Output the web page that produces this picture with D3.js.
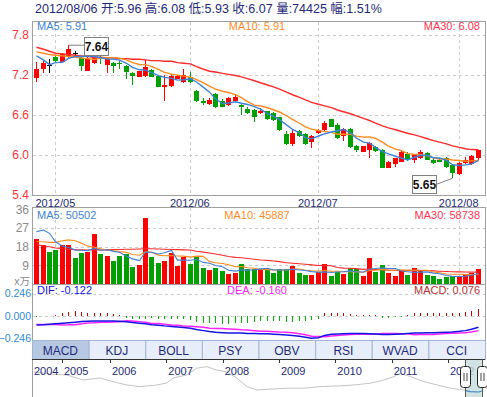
<!DOCTYPE html>
<html>
<head>
<meta charset="utf-8">
<script src="https://cdnjs.cloudflare.com/ajax/libs/d3/7.8.5/d3.min.js"></script>
<style>
  body { margin: 0; background: #fff; }
  svg { display: block; }
</style>
</head>
<body>
<svg id="chart" width="487" height="397"></svg>
<script>
// Quote of the last day
var quoteDay = '2012/08/06';
var quoteNames = ['开', '高', '低', '收', '量', '幅'];
var quoteValues = ['5.96', '6.08', '5.93', '6.07', '74425', '1.51%'];

// Month ticks (candle index of the first day in the month)
var monthIndex = [3, 24, 44, 66];
var monthLabels = ['2012/05', '2012/06', '2012/07', '2012/08'];

// Daily candles, 2012/04/25 .. 2012/08/06
var opens = [7.15, 7.28, 7.34, 7.47, 7.39, 7.46, 7.53, 7.45, 7.26, 7.37,
  7.58, 7.35, 7.37, 7.38, 7.33, 7.22, 7.17, 7.18, 7.27, 7.18,
  7.02, 7.03, 7.14, 7.09, 7.17, 6.96, 6.81, 6.76, 6.91, 6.81,
  6.74, 6.80, 6.75, 6.68, 6.67, 6.62, 6.65, 6.63, 6.56, 6.31,
  6.16, 6.36, 6.31, 6.20, 6.32, 6.37, 6.53, 6.45, 6.28, 6.38,
  6.13, 6.05, 6.07, 6.12, 6.08, 5.81, 5.86, 5.90, 6.02, 5.92,
  5.95, 6.03, 5.93, 5.93, 5.95, 5.85, 5.72, 5.88, 5.87, 5.96];
var highs = [7.39, 7.41, 7.43, 7.50, 7.53, 7.64, 7.56, 7.46, 7.46, 7.52,
  7.62, 7.45, 7.39, 7.40, 7.35, 7.24, 7.26, 7.42, 7.28, 7.19,
  7.19, 7.21, 7.20, 7.28, 7.24, 6.97, 6.85, 6.85, 6.93, 6.84,
  6.86, 6.89, 6.76, 6.71, 6.68, 6.70, 6.66, 6.64, 6.57, 6.36,
  6.37, 6.37, 6.33, 6.29, 6.39, 6.50, 6.54, 6.48, 6.40, 6.40,
  6.15, 6.14, 6.19, 6.14, 6.09, 5.91, 5.96, 6.08, 6.04, 6.02,
  6.07, 6.05, 5.95, 5.96, 5.97, 5.86, 5.90, 5.97, 6.00, 6.08];
var lows = [7.09, 7.23, 7.22, 7.39, 7.38, 7.45, 7.46, 7.26, 7.25, 7.36,
  7.36, 7.22, 7.23, 7.29, 7.14, 7.05, 7.16, 7.17, 7.16, 7.01,
  6.80, 7.02, 7.13, 7.08, 7.08, 6.79, 6.75, 6.75, 6.70, 6.71,
  6.73, 6.79, 6.60, 6.61, 6.49, 6.61, 6.52, 6.51, 6.36, 6.15,
  6.14, 6.26, 6.15, 6.11, 6.31, 6.36, 6.41, 6.24, 6.21, 6.11,
  6.05, 6.04, 5.96, 6.05, 5.80, 5.80, 5.82, 5.89, 5.91, 5.88,
  5.94, 5.92, 5.87, 5.89, 5.80, 5.65, 5.70, 5.86, 5.85, 5.93];
var closes = [7.29, 7.38, 7.34, 7.40, 7.51, 7.58, 7.53, 7.33, 7.44, 7.47,
  7.49, 7.43, 7.33, 7.36, 7.24, 7.18, 7.25, 7.31, 7.17, 7.02,
  7.04, 7.18, 7.18, 7.20, 7.09, 6.80, 6.78, 6.82, 6.71, 6.72,
  6.85, 6.87, 6.71, 6.62, 6.56, 6.66, 6.53, 6.52, 6.37, 6.16,
  6.32, 6.28, 6.16, 6.28, 6.37, 6.48, 6.42, 6.25, 6.38, 6.12,
  6.07, 6.13, 6.18, 6.06, 5.81, 5.90, 5.95, 6.04, 5.92, 6.01,
  6.05, 5.93, 5.88, 5.90, 5.82, 5.73, 5.88, 5.92, 5.98, 6.07];

// Volume, in 万
var volumes = [21.7, 18.9, 15.3, 16.4, 18.9, 18.9, 12.4, 14.8, 15.6, 24.2,
  14.5, 13.5, 11.1, 13.5, 14.5, 8.1, 9.2, 32.1, 12.9, 10.3,
  11.1, 14.8, 8.7, 13.2, 9.7, 12.9, 7.7, 6.8, 7.7, 6.4,
  4.8, 5.5, 9.7, 7.1, 7.2, 7.1, 7.1, 5.5, 7.2, 7.1,
  8.7, 5.5, 4.3, 4.3, 5.6, 9.7, 3.9, 5.6, 4.8, 7.6,
  7.1, 3.9, 12.7, 6.0, 9.2, 5.5, 3.9, 6.8, 4.3, 7.6,
  6.2, 4.3, 3.9, 2.6, 3.5, 4.1, 4.1, 4.5, 5.1, 7.44];

var ma5Lead = [7.48, 7.42, 7.35, 7.38];
var ma10Lead = [7.54, 7.52, 7.50, 7.49, 7.48, 7.47, 7.46, 7.45, 7.44];
var ma30Lead = [7.61, 7.58, 7.55, 7.52, 7.51, 7.50, 7.49, 7.48, 7.47, 7.46,
  7.46, 7.45, 7.45, 7.44, 7.44, 7.43, 7.43, 7.42, 7.41, 7.41,
  7.40, 7.40, 7.38, 7.37, 7.36, 7.32, 7.28, 7.25, 7.24];
var volMa5Lead = [25.3, 26.1, 24.5, 20.4];
var volMa10Lead = [20.4, 20.4, 20.1, 20.1, 20.9, 21.3, 20.9, 19.7, 18.4];
var volMa30Lead = [18.9, 18.5, 18.0, 17.4, 17.0, 16.8, 16.6, 16.5, 16.4, 16.4,
  16.4, 16.5, 16.6, 16.7, 16.8, 16.8, 16.9, 17.0, 17.0, 16.9,
  16.8, 16.7, 16.6, 16.5, 16.4, 15.8, 15.4, 15.0, 14.5];

// MACD: DIF line and histogram
var difs = [-0.099, -0.095, -0.090, -0.085, -0.079, -0.073, -0.067, -0.061, -0.057, -0.055,
  -0.054, -0.055, -0.056, -0.058, -0.064, -0.070, -0.078, -0.086, -0.095, -0.101,
  -0.108, -0.114, -0.120, -0.127, -0.135, -0.148, -0.160, -0.170, -0.178, -0.182,
  -0.185, -0.186, -0.187, -0.190, -0.192, -0.194, -0.195, -0.199, -0.203, -0.208,
  -0.214, -0.222, -0.232, -0.244, -0.238, -0.212, -0.200, -0.196, -0.193, -0.192,
  -0.191, -0.192, -0.194, -0.196, -0.201, -0.203, -0.200, -0.196, -0.191, -0.187,
  -0.185, -0.184, -0.183, -0.181, -0.178, -0.175, -0.168, -0.160, -0.145, -0.122];
var macds = [-0.010, -0.005, 0.005, 0.015, 0.037, 0.048, 0.055, 0.048, 0.037, 0.037,
  0.029, 0.029, 0.018, 0.011, -0.026, -0.033, -0.033, -0.033, -0.026, -0.037,
  -0.037, -0.033, -0.037, -0.033, -0.044, -0.062, -0.073, -0.073, -0.081, -0.092,
  -0.088, -0.081, -0.073, -0.073, -0.062, -0.055, -0.055, -0.055, -0.055, -0.062,
  -0.062, -0.055, -0.055, -0.044, -0.029, 0.029, 0.037, 0.037, 0.029, 0.022,
  0.015, 0.011, 0.011, 0.007, -0.018, -0.022, -0.015, -0.006, 0.006, 0.037,
  0.037, 0.037, 0.037, 0.029, 0.029, 0.029, 0.037, 0.048, 0.059, 0.076];

// Legend readouts
var priceLegend = ['5.91', '5.91', '6.08'];
var volLegend = ['50502', '45887', '58738'];
var macdLegend = ['-0.122', '-0.160', '0.076'];

var priceTicks = [5.4, 6.0, 6.6, 7.2, 7.8];
var volTicks = [9, 18, 27, 36];
var macdTicks = [-0.246, 0, 0.246];

var tabs = ['MACD', 'KDJ', 'BOLL', 'PSY', 'OBV', 'RSI', 'WVAD', 'CCI'];

// Long history thumbnail (year, price)
var overviewYears = [2004.40, 2004.75, 2005.10, 2005.44, 2005.79, 2006.12, 2006.30, 2006.53, 2006.83, 2007.01,
  2007.12, 2007.36, 2007.54, 2007.72, 2007.89, 2008.07, 2008.25, 2008.43, 2008.61, 2008.84,
  2009.14, 2009.44, 2009.73, 2010.03, 2010.33, 2010.62, 2010.86, 2011.04, 2011.15, 2011.33,
  2011.57, 2011.81, 2012.04, 2012.28, 2012.39, 2012.55, 2012.60];
var overviewValues = [15.6, 14.5, 14.0, 11.5, 12.5, 10.2, 9.0, 8.2, 9.0, 10.0,
  12.5, 14.0, 17.4, 18.2, 16.5, 15.6, 12.5, 8.2, 6.5, 6.9,
  7.4, 7.4, 8.2, 8.5, 9.0, 9.9, 11.5, 13.2, 14.9, 13.2,
  10.7, 9.0, 7.4, 6.5, 5.7, 5.5, 6.0];
var yearTicks = [2004, 2005, 2006, 2007, 2008, 2009, 2010, 2011, 2012];
var shownFrom = 2012.31, shownTo = 2012.60;

// Layout
var font = '"Liberation Sans", Arial, "Noto Sans CJK SC", sans-serif';
var left = 32, right = 485;
var priceBox = { top: 21, bottom: 195 };
var volBox = { top: 207, bottom: 284 };
var macdBox = { top: 284, bottom: 340 };
var tabBox = { top: 340, bottom: 359 };
var viewBox = { top: 359, bottom: 397 };

var up = '#ff0000', down = '#00a000';
var maColors = ['#3d82d8', '#ff8a1f', '#ff2a2a'];
var maText = ['#3d82d8', '#ff8a1f', '#ff3350'];

var svg = d3.select('#chart').attr('font-family', font);

var index = d3.range(closes.length);
var x = d3.scaleBand().domain(index).range([left, 482]).padding(0.3);
function cx(i) { return Math.round(x(i) + x.bandwidth() / 2); }

var yPrice = d3.scaleLinear().domain([5.4, 7.8]).range([195, 34.5]);
var yVol = d3.scaleLinear().domain([0, 36]).range([284, 209.5]);
var yMacd = d3.scaleLinear().domain([-0.246, 0.246]).range([338.5, 293.5]);

function movingAverage(values, n, lead) {
  return values.map(function (v, i) {
    if (i < n - 1) return lead[i];
    return d3.mean(values.slice(i - n + 1, i + 1));
  });
}

// Header
svg.append('text')
    .attr('x', 35)
    .attr('y', 13)
    .attr('font-size', 12.5)
    .attr('fill', '#1e2a7c')
    .text(quoteDay + ' ' + quoteNames.map(function (n, i) { return n + ':' + quoteValues[i]; }).join(' '));

// Panel frames
[priceBox, volBox, macdBox].forEach(function (b) {
  svg.append('rect')
      .attr('x', left + 0.5)
      .attr('y', b.top + 0.5)
      .attr('width', right - left)
      .attr('height', b.bottom - b.top)
      .attr('fill', 'none')
      .attr('stroke', '#a0a0a0');
});

function hGrid(values, scale) {
  svg.append('g').selectAll('line')
      .data(values)
      .enter()
    .append('line')
      .attr('x1', left + 1)
      .attr('x2', right)
      .attr('y1', function (d) { return Math.round(scale(d)) + 0.5; })
      .attr('y2', function (d) { return Math.round(scale(d)) + 0.5; })
      .attr('stroke', '#cccccc')
      .attr('stroke-dasharray', '3,3');
}

function vGrid(box) {
  svg.append('g').selectAll('line')
      .data(monthIndex)
      .enter()
    .append('line')
      .attr('x1', function (d) { return cx(d) + 0.5; })
      .attr('x2', function (d) { return cx(d) + 0.5; })
      .attr('y1', box.top + 1)
      .attr('y2', box.bottom)
      .attr('stroke', '#cccccc')
      .attr('stroke-dasharray', '3,3');
}

hGrid([6.0, 6.6, 7.2, 7.8], yPrice);
hGrid([9, 18, 27], yVol);
hGrid([0, 0.246], yMacd);
vGrid(priceBox);
vGrid(volBox);

function leftAxis(scale, ticks, fmt, color, size, pad) {
  svg.append('g')
      .attr('transform', 'translate(' + left + ',0)')
      .call(d3.axisLeft(scale).tickValues(ticks).tickSize(0).tickPadding(pad).tickFormat(fmt))
      .call(function (g) { g.select('.domain').remove(); })
      .attr('font-size', size)
      .attr('font-family', font)
    .selectAll('text')
      .attr('fill', color);
}

leftAxis(yPrice, priceTicks, d3.format('.1f'), '#ff3333', 12, 3);
leftAxis(yVol, volTicks, d3.format('d'), '#8a8a8a', 12, 3);
leftAxis(yMacd, macdTicks, d3.format('.3f'), '#2a8ad8', 10.5, 1);

svg.append('text')
    .attr('x', 30)
    .attr('y', 285)
    .attr('text-anchor', 'end')
    .attr('font-size', 10.5)
    .attr('fill', '#8a8a8a')
    .text('x万');

// Month labels
svg.append('g')
    .attr('transform', 'translate(0,' + priceBox.bottom + ')')
    .call(d3.axisBottom(x).tickValues(monthIndex).tickSize(0).tickPadding(4)
      .tickFormat(function (d) { return monthLabels[monthIndex.indexOf(d)]; }))
    .call(function (g) { g.select('.domain').remove(); })
    .attr('font-size', 11)
    .attr('font-family', font)
  .selectAll('text')
    .attr('fill', '#1e2a7c');

// Legends
function legend(y, labels, values, colors) {
  var anchors = ['start', 'middle', 'end'];
  var xs = [37, 257, 480];
  labels.forEach(function (l, i) {
    svg.append('text')
        .attr('x', xs[i])
        .attr('y', y)
        .attr('text-anchor', anchors[i])
        .attr('font-size', 11)
        .attr('fill', colors[i])
        .text(l + ': ' + values[i]);
  });
}

legend(30, ['MA5', 'MA10', 'MA30'], priceLegend, maText);
legend(219, ['MA5', 'MA10', 'MA30'], volLegend, maText);
legend(294, ['DIF', 'DEA', 'MACD'], macdLegend, ['#1414e6', '#ff22ff', '#b83030']);

// Candles
var candles = svg.append('g').attr('shape-rendering', 'crispEdges');

candles.selectAll('line.wick')
    .data(index)
    .enter()
  .append('line')
    .attr('class', 'wick')
    .attr('x1', function (i) { return cx(i) + 0.5; })
    .attr('x2', function (i) { return cx(i) + 0.5; })
    .attr('y1', function (i) { return yPrice(highs[i]); })
    .attr('y2', function (i) { return yPrice(lows[i]); })
    .attr('stroke', function (i) {
      if (closes[i] === opens[i]) return '#000';
      return closes[i] > opens[i] ? up : down;
    });

candles.selectAll('rect')
    .data(index.filter(function (i) { return closes[i] !== opens[i]; }))
    .enter()
  .append('rect')
    .attr('x', function (i) { return cx(i) - 2; })
    .attr('y', function (i) { return yPrice(Math.max(opens[i], closes[i])); })
    .attr('width', 5)
    .attr('height', function (i) { return Math.max(1, Math.abs(yPrice(opens[i]) - yPrice(closes[i]))); })
    .attr('fill', function (i) { return closes[i] > opens[i] ? up : down; });

candles.selectAll('line.doji')
    .data(index.filter(function (i) { return closes[i] === opens[i]; }))
    .enter()
  .append('line')
    .attr('class', 'doji')
    .attr('x1', function (i) { return cx(i) - 2; })
    .attr('x2', function (i) { return cx(i) + 3; })
    .attr('y1', function (i) { return Math.round(yPrice(closes[i])) + 0.5; })
    .attr('y2', function (i) { return Math.round(yPrice(closes[i])) + 0.5; })
    .attr('stroke', '#000');

// Price moving averages
function maLine(values, scale, color, width) {
  svg.append('path')
      .datum(values)
      .attr('fill', 'none')
      .attr('stroke', color)
      .attr('stroke-width', width)
      .attr('d', d3.line()
        .x(function (d, i) { return cx(i) + 0.5; })
        .y(function (d) { return scale(d); }));
}

maLine(movingAverage(closes, 30, ma30Lead), yPrice, maColors[2], 1.4);
maLine(movingAverage(closes, 10, ma10Lead), yPrice, maColors[1], 1.4);
maLine(movingAverage(closes, 5, ma5Lead), yPrice, maColors[0], 1.4);

// High / low markers
var hi = d3.maxIndex(highs), lo = d3.minIndex(lows);

function marker(i, value, bx, by, lineFrom) {
  svg.append('line')
      .attr('x1', lineFrom[0]).attr('y1', lineFrom[1])
      .attr('x2', cx(i) + 0.5).attr('y2', yPrice(value))
      .attr('stroke', '#808080');
  svg.append('rect')
      .attr('x', bx + 0.5).attr('y', by + 0.5)
      .attr('width', 24).attr('height', 18)
      .attr('fill', '#fff')
      .attr('stroke', '#808080');
  svg.append('text')
      .attr('x', bx + 12.5).attr('y', by + 14)
      .attr('text-anchor', 'middle')
      .attr('font-size', 12)
      .attr('font-weight', 'bold')
      .attr('fill', '#111')
      .text(d3.format('.2f')(value));
}

var hiY = yPrice(highs[hi]);
marker(hi, highs[hi], cx(hi) + 16, Math.round(hiY) - 8, [cx(hi) + 16.5, hiY]);
var loY = yPrice(lows[lo]);
marker(lo, lows[lo], cx(lo) - 40, Math.round(loY) - 3, [cx(lo) - 15.5, loY + 6]);

// Volume bars
svg.append('g')
    .attr('shape-rendering', 'crispEdges')
  .selectAll('rect')
    .data(index)
    .enter()
  .append('rect')
    .attr('x', function (i) { return cx(i) - 2; })
    .attr('y', function (i) { return yVol(volumes[i]); })
    .attr('width', 5)
    .attr('height', function (i) { return yVol(0) - yVol(volumes[i]); })
    .attr('fill', function (i) { return closes[i] > opens[i] ? up : down; });

maLine(movingAverage(volumes, 30, volMa30Lead), yVol, maColors[2], 1.1);
maLine(movingAverage(volumes, 10, volMa10Lead), yVol, maColors[1], 1.1);
maLine(movingAverage(volumes, 5, volMa5Lead), yVol, maColors[0], 1.1);

// MACD histogram and lines
svg.append('g')
    .attr('shape-rendering', 'crispEdges')
  .selectAll('line')
    .data(index)
    .enter()
  .append('line')
    .attr('x1', function (i) { return cx(i) + 0.5; })
    .attr('x2', function (i) { return cx(i) + 0.5; })
    .attr('y1', yMacd(0))
    .attr('y2', function (i) { return yMacd(macds[i]); })
    .attr('stroke', function (i) { return macds[i] >= 0 ? '#c80000' : '#00b400'; });

var deas = difs.map(function (d, i) { return d - macds[i] / 2; });
maLine(deas, yMacd, '#ff22ff', 1.5);
maLine(difs, yMacd, '#1414e6', 1.5);

// Indicator tabs
var tabX = d3.scaleBand().domain(tabs).range([left, right]);
var tab = svg.append('g').selectAll('g')
    .data(tabs)
    .enter()
  .append('g')
    .attr('transform', function (d) { return 'translate(' + tabX(d) + ',' + tabBox.top + ')'; });

tab.append('rect')
    .attr('x', 0.5).attr('y', 0.5)
    .attr('width', tabX.bandwidth())
    .attr('height', tabBox.bottom - tabBox.top)
    .attr('fill', function (d, i) { return i === 0 ? '#b7c8e2' : '#e7eef9'; })
    .attr('stroke', '#a3b5d9');

tab.append('text')
    .attr('x', tabX.bandwidth() / 2)
    .attr('y', 14.5)
    .attr('text-anchor', 'middle')
    .attr('font-size', 12)
    .attr('fill', '#1e2a7c')
    .text(function (d) { return d; });

// History thumbnail
var xYear = d3.scaleLinear().domain([2005, 2006, 2012]).range([62, 110, 448]);
var yView = d3.scaleLinear().domain([4, 20]).range([395, 363]);

var viewLine = d3.line()
    .x(function (d, i) { return xYear(overviewYears[i]); })
    .y(function (d) { return yView(d); });

svg.append('path')
    .datum(overviewValues)
    .attr('fill', 'none')
    .attr('stroke', '#c4c4c4')
    .attr('d', viewLine);

svg.append('line')
    .attr('x1', left + 0.5).attr('x2', left + 0.5)
    .attr('y1', viewBox.top).attr('y2', viewBox.bottom)
    .attr('stroke', '#a0a0a0');

svg.append('line')
    .attr('x1', left).attr('x2', right)
    .attr('y1', viewBox.top + 0.5).attr('y2', viewBox.top + 0.5)
    .attr('stroke', '#333');

var yearG = svg.append('g');
yearG.selectAll('line')
    .data(yearTicks.filter(function (d) { return xYear(d) >= left; }))
    .enter()
  .append('line')
    .attr('x1', function (d) { return Math.round(xYear(d)) + 0.5; })
    .attr('x2', function (d) { return Math.round(xYear(d)) + 0.5; })
    .attr('y1', viewBox.top)
    .attr('y2', viewBox.top + 4)
    .attr('stroke', '#333');

yearG.selectAll('text')
    .data(yearTicks)
    .enter()
  .append('text')
    .attr('x', function (d) { return Math.max(xYear(d), left) + 2; })
    .attr('y', 375)
    .attr('font-size', 11)
    .attr('fill', '#1e2a7c')
    .text(function (d) { return d; });

// Window shown in the main chart
var s0 = xYear(shownFrom), s1 = xYear(shownTo);

svg.append('rect')
    .attr('x', s0).attr('y', viewBox.top + 1)
    .attr('width', s1 - s0).attr('height', viewBox.bottom - viewBox.top)
    .attr('fill', '#c6dcdc')
    .attr('opacity', 0.8);

svg.append('clipPath')
    .attr('id', 'shown')
  .append('rect')
    .attr('x', s0).attr('y', viewBox.top)
    .attr('width', s1 - s0).attr('height', viewBox.bottom - viewBox.top);

svg.append('path')
    .datum(overviewValues)
    .attr('clip-path', 'url(#shown)')
    .attr('fill', 'none')
    .attr('stroke', '#3a8ac8')
    .attr('stroke-width', 1.2)
    .attr('d', viewLine);

[s0, s1].forEach(function (sx) {
  var hx = Math.round(sx);
  svg.append('line')
      .attr('x1', hx + 0.5).attr('x2', hx + 0.5)
      .attr('y1', viewBox.top).attr('y2', viewBox.bottom)
      .attr('stroke', '#555');
  svg.append('rect')
      .attr('x', hx - 4.5).attr('y', 366.5)
      .attr('width', 10).attr('height', 21)
      .attr('rx', 3)
      .attr('fill', '#fff')
      .attr('stroke', '#222');
  [-1, 2].forEach(function (o) {
    svg.append('line')
        .attr('x1', hx + o).attr('x2', hx + o)
        .attr('y1', 373).attr('y2', 381)
        .attr('stroke', '#444');
  });
});
</script>
</body>
</html>
